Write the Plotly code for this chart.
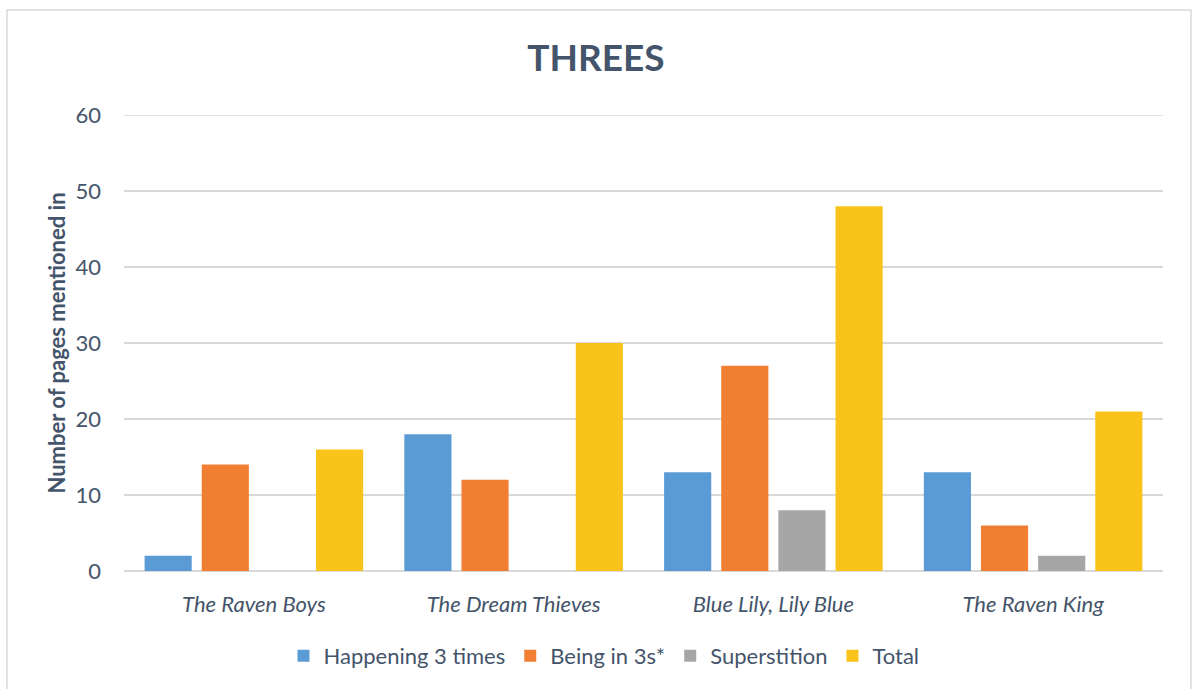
import plotly.graph_objects as go

categories = ["The Raven Boys", "The Dream Thieves", "Blue Lily, Lily Blue", "The Raven King"]
series_names = ["Happening 3 times", "Being in 3s*", "Superstition", "Total"]
happening = [2, 18, 13, 13]
being = [14, 12, 27, 6]
superstition = [0, 0, 8, 2]
total = [16, 30, 48, 21]
y_ticks = [0, 10, 20, 30, 40, 50, 60]

colors = ["#5A9BD5", "#F07F33", "#A6A6A6", "#FAC31A"]
FONT = "Lato, Open Sans, sans-serif"
TXT = "#44546A"

fig = go.Figure()
for name, vals, c in zip(series_names, [happening, being, superstition, total], colors):
    fig.add_trace(go.Bar(x=categories, y=vals, name=name, marker=dict(color=c, line=dict(width=0))))

L, R, T, B = 124, 29, 115, 118
W, H = 1192, 689
pw, ph = W - L - R, H - T - B

fig.update_layout(
    width=W, height=H,
    margin=dict(l=L, r=R, t=T, b=B),
    paper_bgcolor="white", plot_bgcolor="white",
    barmode="group", bargap=0.12, bargroupgap=0.175,
    font=dict(family=FONT, color=TXT, size=22),
    title=dict(text="<b>THREES</b>", x=0.5, xanchor="center", y=1 - 58 / H, yanchor="middle",
               font=dict(size=37, color=TXT, family=FONT)),
    legend=dict(orientation="h", x=(604 - L) / pw, xanchor="center", y=(571 - 656) / ph, yanchor="middle",
                font=dict(size=22, color=TXT), itemwidth=30, traceorder="normal"),
    showlegend=True,
)
fig.update_xaxes(
    showgrid=False, showline=False, ticks="",
    tickfont=dict(size=22, color=TXT, family=FONT), ticklabelstandoff=18,
    tickvals=categories, ticktext=["<i>%s</i>" % c for c in categories],
)
fig.update_yaxes(
    range=[0, 60], tickvals=y_ticks, showgrid=True, gridcolor="#D9D9D9", gridwidth=1.5,
    zeroline=True, zerolinecolor="#D9D9D9", zerolinewidth=1.5, showline=False,
    tickfont=dict(size=22, color=TXT, family=FONT), ticklabelstandoff=22,
    title=dict(text="<b>Number of pages mentioned in</b>", font=dict(size=22, color=TXT, family=FONT), standoff=3),
)
# top gridline at the range edge
fig.add_shape(type="line", xref="paper", yref="y", x0=0, x1=1, y0=y_ticks[-1], y1=y_ticks[-1],
              line=dict(color="#D9D9D9", width=1.5), layer="below")
fig.add_shape(type="rect", xref="paper", yref="paper",
              x0=(7 - L) / pw, x1=(1191 - L) / pw, y0=(571 - 700) / ph, y1=(571 - 10) / ph,
              line=dict(color="#D9D9D9", width=1.5), fillcolor="rgba(0,0,0,0)", layer="below")
fig.write_html("out.html")
